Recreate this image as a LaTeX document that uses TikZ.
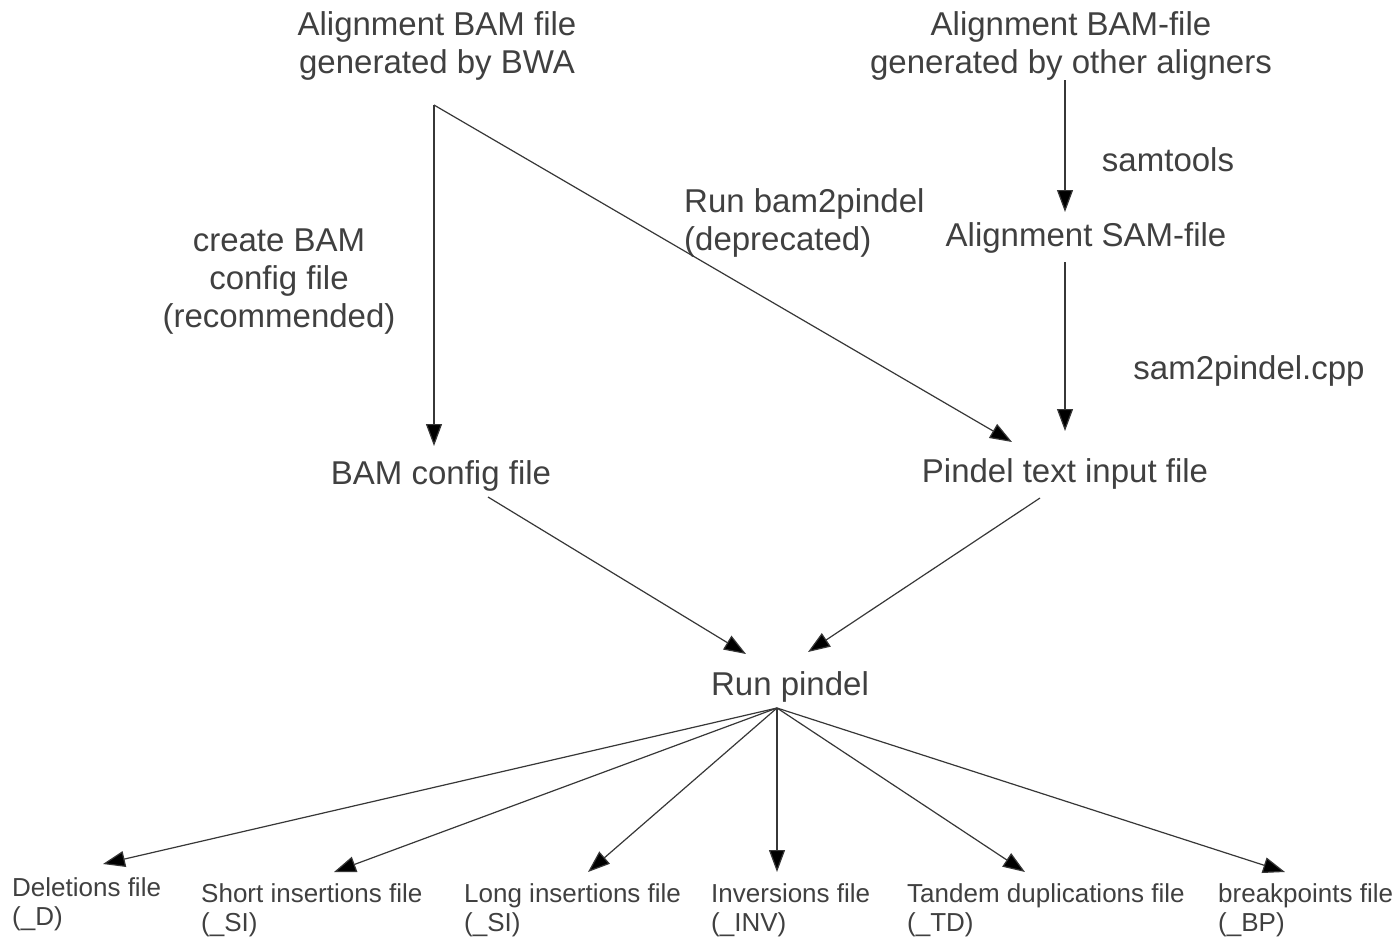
\documentclass[tikz,border=0pt]{standalone}
\usepackage{fontspec}
\setmainfont{Liberation Sans}
\usetikzlibrary{arrows.meta}
\definecolor{txt}{RGB}{64,64,64}
\definecolor{ln}{RGB}{55,55,55}
\begin{document}
\begin{tikzpicture}[x=1pt,y=-1pt,
  lbl/.style={text=txt, font=\fontsize{33}{38}\selectfont, inner sep=0pt, align=center},
  outlbl/.style={text=txt, font=\fontsize{26}{29}\selectfont, inner sep=0pt, align=left, anchor=west},
  plain/.style={draw=ln, line width=1.2pt},
  flow/.style={plain, -{Triangle[length=22pt,width=16pt,fill=black]}}]
\useasboundingbox[fill=white] (0,0) rectangle (1396,937);

% pipeline stages
\node[lbl] (bwa)    at (437,46)  {Alignment BAM file\\generated by BWA};
\node[lbl] (other)  at (1071,46) {Alignment BAM-file\\generated by other aligners};
\node[lbl] (sam)    at (1086,238) {Alignment SAM-file};
\node[lbl] (cfg)    at (441,476) {BAM config file};
\node[lbl] (txtin)  at (1065,474) {Pindel text input file};
\node[lbl] (pindel) at (790,687) {Run pindel};

% step labels
\node[lbl] (samtools) at (1168,160) {samtools};
\node[lbl] (s2p)      at (1249,371) {sam2pindel.cpp};
\node[lbl, align=left, anchor=west] (b2p) at (684,222.5) {Run bam2pindel\\(deprecated)};
\node[lbl] (create)   at (279,282) {create BAM\\config file\\(recommended)};

% output files
\node[outlbl] (del) at (12,904) {Deletions file\\(\_D)};
\node[outlbl] (si)  at (201,910.5) {Short insertions file\\(\_SI)};
\node[outlbl] (li)  at (464,910.5) {Long insertions file\\(\_SI)};
\node[outlbl] (inv) at (711,910.5) {Inversions file\\(\_INV)};
\node[outlbl] (td)  at (907,910.5) {Tandem duplications file\\(\_TD)};
\node[outlbl] (bp)  at (1218,910.5) {breakpoints file\\(\_BP)};

% connector end points
\coordinate (bwaOut)    at (434,105);
\coordinate (cfgIn)     at (434,446);
\coordinate (txtInL)    at (1012,442);
\coordinate (otherOut)  at (1065,80);
\coordinate (samIn)     at (1065,212);
\coordinate (samOut)    at (1065,262);
\coordinate (txtInT)    at (1065,431);
\coordinate (cfgOut)    at (488,497);
\coordinate (txtOut)    at (1040,498);
\coordinate (pindelInL) at (746,654);
\coordinate (pindelInR) at (808,652);
\coordinate (pindelOut) at (777,708);
\coordinate (delIn)     at (103,864);
\coordinate (siIn)      at (334,872);
\coordinate (liIn)      at (588,872);
\coordinate (invIn)     at (777,872);
\coordinate (tdIn)      at (1025,872);
\coordinate (bpIn)      at (1285,872);

% connectors
\draw[flow] (bwaOut) -- (cfgIn);
\draw[flow] (bwaOut) -- (txtInL);
\draw[flow] (otherOut) -- (samIn);
\draw[flow] (samOut) -- (txtInT);
\draw[flow] (cfgOut) -- (pindelInL);
\draw[flow] (txtOut) -- (pindelInR);
\foreach \t in {delIn,siIn,liIn,invIn,tdIn,bpIn}
  \draw[flow] (pindelOut) -- (\t);
\end{tikzpicture}
\end{document}
